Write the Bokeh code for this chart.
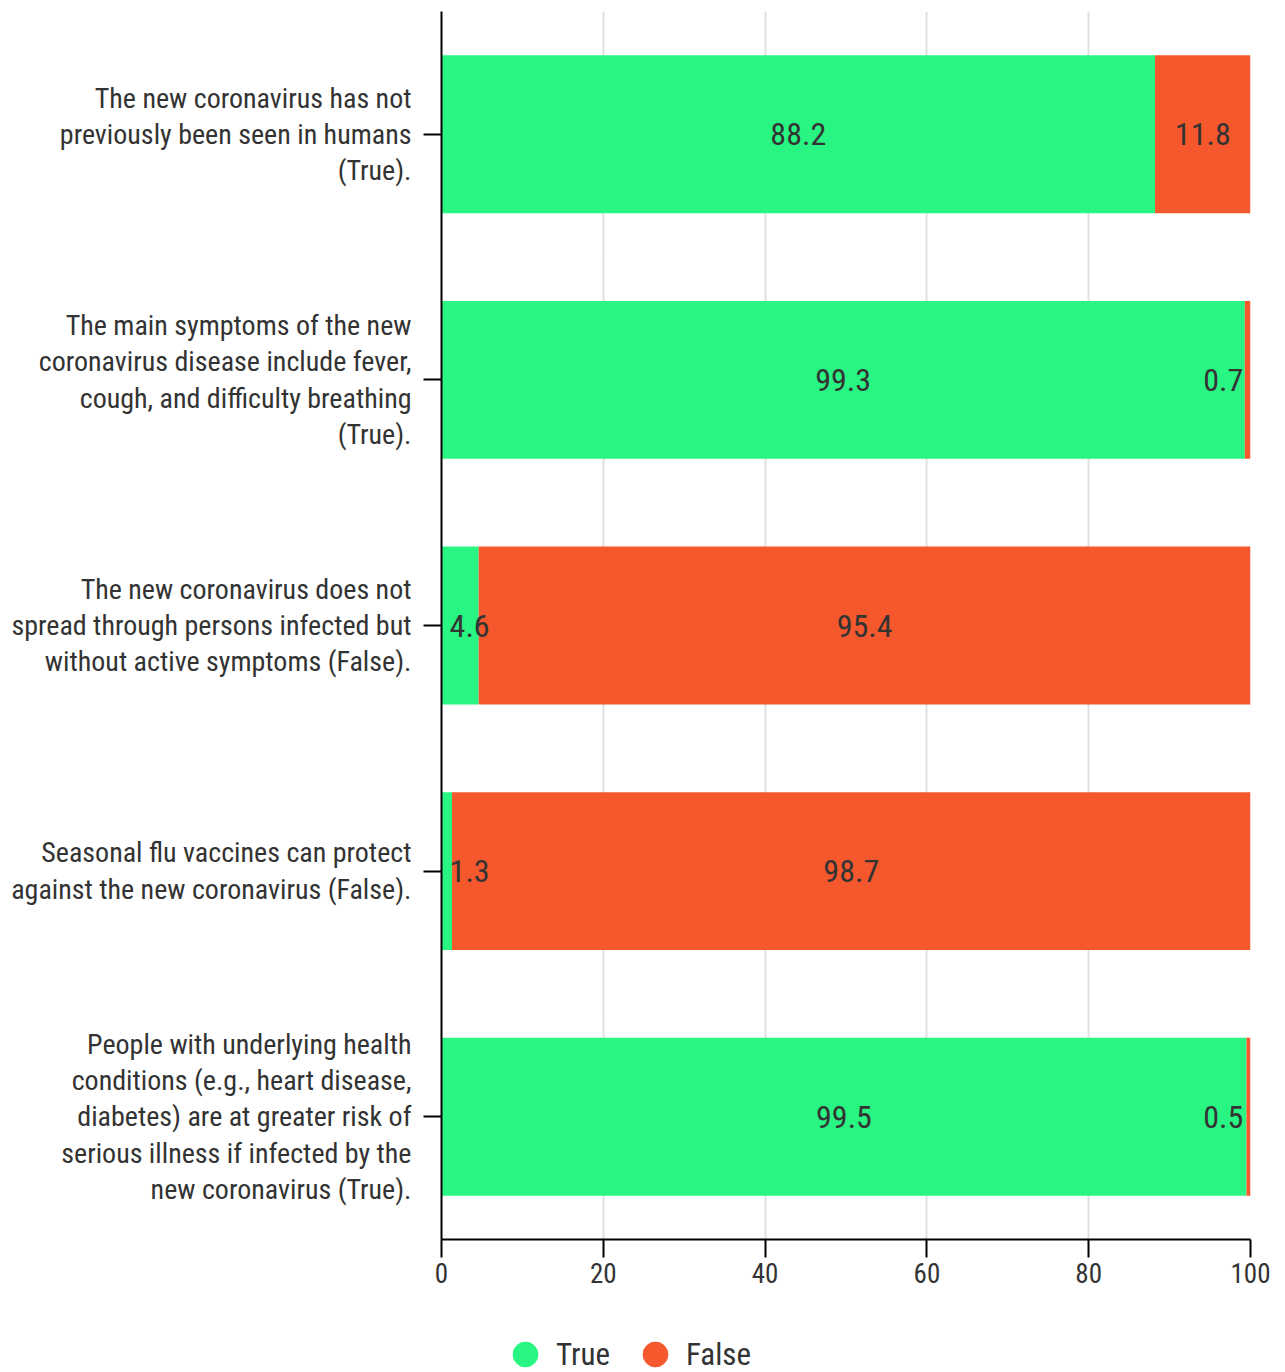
from bokeh.plotting import figure
from bokeh.layouts import column
from bokeh.models import ColumnDataSource, FixedTicker, Legend, LegendItem, Range1d
from bokeh.embed import file_html
from bokeh.resources import INLINE

statements = [
    "The new coronavirus has not\npreviously been seen in humans\n(True).",
    "The main symptoms of the new\ncoronavirus disease include fever,\ncough, and difficulty breathing\n(True).",
    "The new coronavirus does not\nspread through persons infected but\nwithout active symptoms (False).",
    "Seasonal flu vaccines can protect\nagainst the new coronavirus (False).",
    "People with underlying health\nconditions (e.g., heart disease,\ndiabetes) are at greater risk of\nserious illness if infected by the\nnew coronavirus (True).",
]
true_pct = [88.2, 99.3, 4.6, 1.3, 99.5]
false_pct = [11.8, 0.7, 95.4, 98.7, 0.5]
series_names = ["True", "False"]
x_ticks = [0, 20, 40, 60, 80, 100]

GREEN = "#29f583"
ORANGE = "#f5582c"
TXT = "#333333"
FONT = "Roboto Condensed, Liberation Sans Narrow, Roboto"

n = len(statements)
ypos = [n - i for i in range(n)]

src = ColumnDataSource(dict(
    y=ypos,
    t=true_pct,
    f=false_pct,
    f_left=true_pct,
    f_right=[a + b for a, b in zip(true_pct, false_pct)],
))

p = figure(width=1285, height=1312, output_backend="svg", toolbar_location=None,
           x_range=Range1d(0, 100), y_range=Range1d(0.5, n + 0.5),
           min_border_left=441, min_border_right=35, min_border_top=11,
           min_border_bottom=73)
p.outline_line_color = None

r_true = p.hbar(y="y", left=0, right="t", height=0.643, color=GREEN, line_color=None, source=src)
r_false = p.hbar(y="y", left="f_left", right="f_right", height=0.643, color=ORANGE,
                 line_color=None, source=src)

# value labels
lx, ly, lt, la = [], [], [], []
for i in range(n):
    t, f = true_pct[i], false_pct[i]
    if t < 5:
        lx.append(1.0); la.append("left")
    else:
        lx.append(t / 2); la.append("center")
    ly.append(ypos[i]); lt.append(f"{t:.1f}")
    if f < 5:
        lx.append(99.1); la.append("right")
    else:
        lx.append(t + f / 2); la.append("center")
    ly.append(ypos[i]); lt.append(f"{f:.1f}")
lsrc = ColumnDataSource(dict(x=lx, y=ly, text=lt, align=la))
p.text(x="x", y="y", text="text", text_align="align", text_baseline="middle",
       text_font_size="32px", text_color=TXT, text_font={"value": FONT}, source=lsrc)

# grid
p.ygrid.grid_line_color = None
p.xgrid.grid_line_color = "#e0e0e0"
p.xgrid.grid_line_width = 2
p.xgrid.ticker = FixedTicker(ticks=x_ticks)

# x axis
xa = p.xaxis[0]
xa.ticker = FixedTicker(ticks=x_ticks)
xa.axis_line_color = "black"
xa.axis_line_width = 2
xa.major_tick_line_color = "black"
xa.major_tick_line_width = 2
xa.major_tick_out = 18
xa.major_tick_in = 0
xa.minor_tick_line_color = None
xa.major_label_text_font = FONT
xa.major_label_text_font_size = "27px"
xa.major_label_text_color = TXT
xa.major_label_standoff = 5

# y axis
ya = p.yaxis[0]
ya.ticker = FixedTicker(ticks=ypos)
ya.major_label_overrides = {ypos[i]: statements[i] for i in range(n)}
ya.axis_line_color = "black"
ya.axis_line_width = 2
ya.major_tick_line_color = "black"
ya.major_tick_line_width = 2
ya.major_tick_out = 18
ya.major_tick_in = 0
ya.minor_tick_line_color = None
ya.major_label_text_font = FONT
ya.major_label_text_font_size = "28px"
ya.major_label_text_color = TXT
ya.major_label_text_line_height = 1.1
ya.major_label_standoff = 12

# legend strip below the chart (its frame is aligned with the main frame by the column)
p2 = figure(width=1285, height=60, output_backend="svg", toolbar_location=None,
            x_range=Range1d(0, 100), y_range=Range1d(0.5, n + 0.5),
            x_axis_location=None, y_axis_location=None, min_border=0)
p2.outline_line_color = None
p2.grid.grid_line_color = None
d_true = p2.scatter(x="t", y="y", marker="circle", size=25, color=GREEN, source=src,
                    visible=False)
d_false = p2.scatter(x="f", y="y", marker="circle", size=25, color=ORANGE, source=src,
                     visible=False)
legend = Legend(items=[LegendItem(label=series_names[0], renderers=[d_true]),
                       LegendItem(label=series_names[1], renderers=[d_false])],
                orientation="horizontal", location=(53, -13), click_policy="none",
                glyph_width=62, glyph_height=62, label_standoff=0, spacing=14,
                padding=0, margin=0, border_line_color=None, background_fill_alpha=0,
                inactive_fill_alpha=0,
                label_text_font=FONT, label_text_font_size="31px", label_text_color=TXT,
                label_text_baseline="middle")
p2.add_layout(legend, "center")

layout = column(p, p2, spacing=0)
open("out.html", "w").write(file_html(layout, INLINE))
